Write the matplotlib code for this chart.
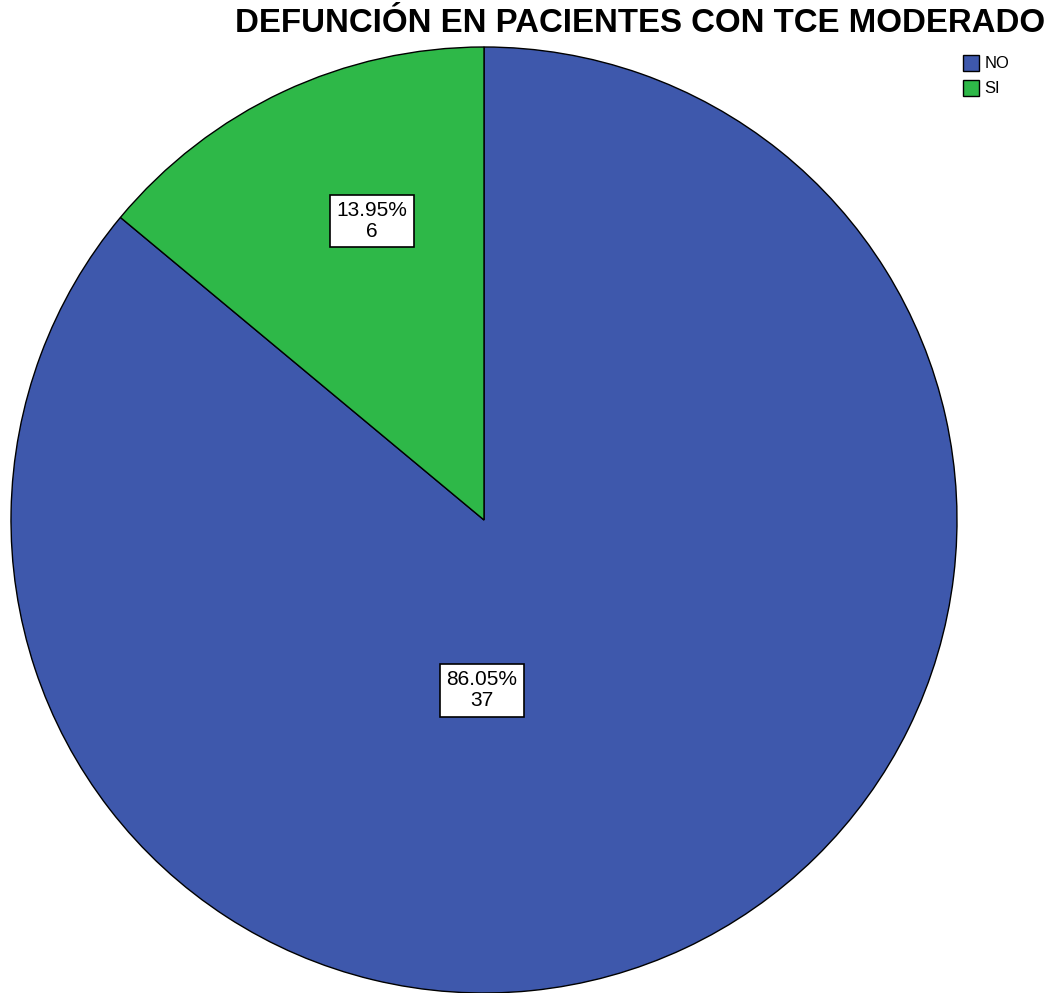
import matplotlib
matplotlib.use("Agg")
from matplotlib import pyplot as plt
from matplotlib.patches import Patch
import numpy as np

categories = ["NO", "SI"]
counts = [37, 6]
colors = ["#3E58AC", "#2EB848"]

fig = plt.figure(figsize=(10.52, 9.93), dpi=100)

####
# pie
####
ax = fig.add_axes([11 / 1052, 0.0, 946 / 1052, 946 / 993])
wedges, _ = ax.pie(counts, colors=colors, startangle=90, counterclock=False,
                   wedgeprops=dict(edgecolor="black", linewidth=1.0))
ax.set_xlim(-1, 1)
ax.set_ylim(-1, 1)
ax.set_aspect("equal")
ax.axis("off")

total = sum(counts)
# label spots (as in the SPSS output)
label_pos = [(-0.004, -0.36), (-0.237, 0.632)]
for c, (lx, ly) in zip(counts, label_pos):
    pct = 100.0 * c / total
    ax.text(lx, ly, "%.2f%%\n%d" % (pct, c), ha="center", va="center",
            fontsize=15, family="Liberation Sans", linespacing=1.15,
            bbox=dict(boxstyle="square,pad=0.3", facecolor="white",
                      edgecolor="black", linewidth=1.2))

####
# title + legend
####
fig.text(640 / 1052, 1 - 24 / 993, "DEFUNCIÓN EN PACIENTES CON TCE MODERADO",
         ha="center", va="center", fontsize=23.8, fontweight="bold",
         family="Liberation Sans")

handles = [Patch(facecolor=col, edgecolor="black", label=cat)
           for cat, col in zip(categories, colors)]
fig.legend(handles=handles, loc="upper left", bbox_to_anchor=(951 / 1052, 1 - 43 / 993),
           frameon=False, handlelength=1.0, handleheight=1.1,
           handletextpad=0.3, labelspacing=0.5, borderpad=0.2,
           prop={"family": "Liberation Sans", "size": 12})

fig.savefig("out.png", dpi=100)
